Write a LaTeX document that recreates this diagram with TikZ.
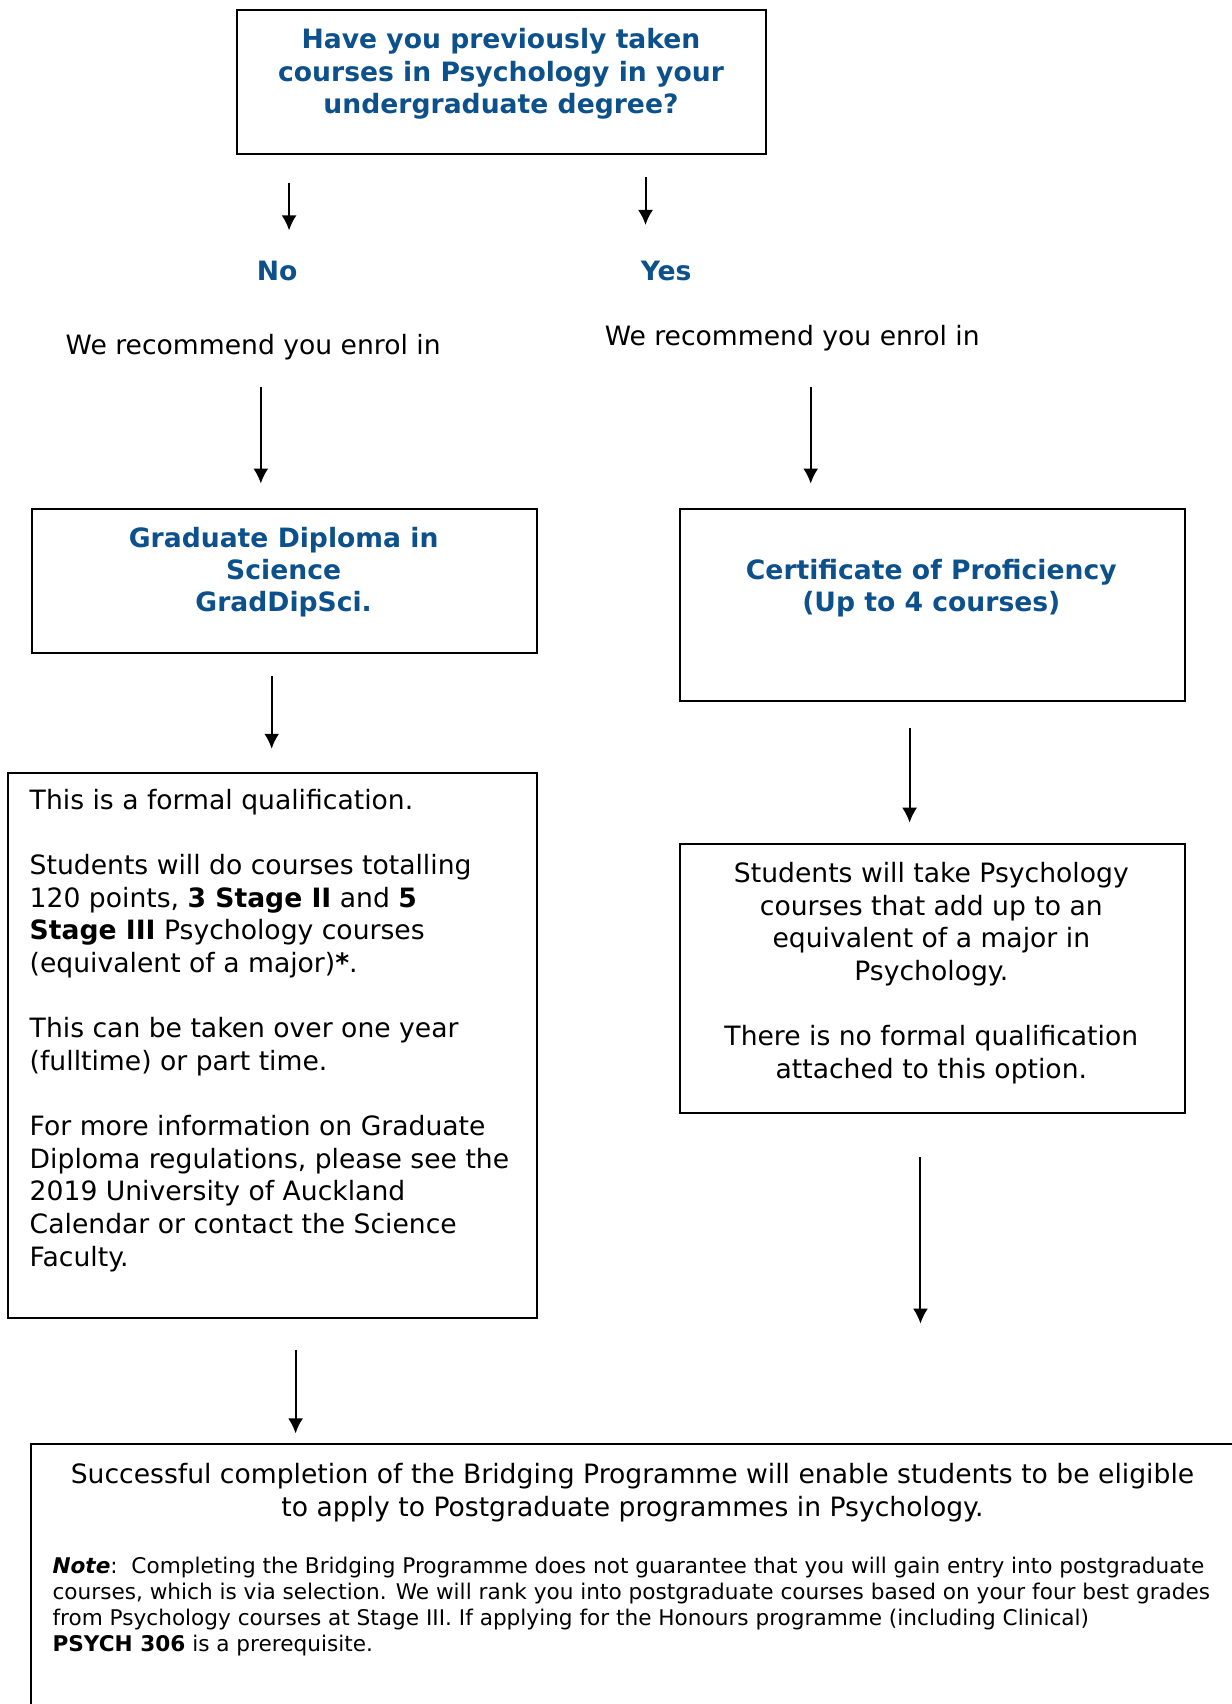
\documentclass[tikz,border=0pt]{standalone}
\usepackage{fontspec}
\setmainfont{DejaVu Sans}
\usetikzlibrary{arrows.meta}
\definecolor{uoablue}{RGB}{12,80,140}
\tikzset{
	boxframe/.style={draw, line width=1pt, inner sep=0pt},
	arr/.style={line width=1pt, -{Latex[length=7.5pt, width=7.5pt]}},
	head/.style={text=uoablue, font=\fontsize{13.3}{16}\selectfont\bfseries, align=center, inner sep=0pt},
	body/.style={font=\fontsize{13.3}{16.3}\selectfont, inner sep=0pt},
	small/.style={font=\fontsize{10.8}{13}\selectfont, align=left, inner sep=0pt}
}
\begin{document}
\begin{tikzpicture}[x=0.5432pt, y=-0.5432pt]
		\useasboundingbox (0,0) rectangle (1133,1568);
		% frames
		\node[boxframe, minimum width=264.5pt, minimum height=72.2pt] (qbox) at (461.5,75.5) {};
		\node[boxframe, minimum width=252.6pt, minimum height=72.2pt] (gdbox) at (261.5,534.5) {};
		\node[boxframe, minimum width=252pt, minimum height=96.1pt] (cpbox) at (858,556.5) {};
		\node[boxframe, minimum width=264.5pt, minimum height=272.7pt] (infobox) at (250.5,962) {};
		\node[boxframe, minimum width=252pt, minimum height=134.2pt] (optbox) at (858,900.5) {};
		\node[boxframe, minimum width=614.4pt, minimum height=147.2pt] (endbox) at (594.5,1464.5) {};
		
		% arrows
		\foreach \n/\x/\ya/\yb in {1/266/168/212, 2/594/163/207, 3/240/356/445, 4/746/356/445,
			5/250/622/689, 6/837/670/757, 7/847/1065/1218, 8/272/1242/1319}
		{
			\coordinate (s\n) at (\x,\ya);
			\coordinate (e\n) at (\x,\yb);
			\draw[arr] (s\n) -- (e\n);
		}
		
		% texts (anchored at the baseline of their last line)
		\node[head, anchor=base] (qtext) at (461,104) {Have you previously taken\\courses in Psychology in your\\undergraduate degree?};
		\node[head, anchor=base] (nolbl) at (255,258) {No};
		\node[head, anchor=base] (yeslbl) at (613,258) {Yes};
		\node[body, anchor=base] (recl) at (233,326) {We recommend you enrol in};
		\node[body, anchor=base] (recr) at (729,318) {We recommend you enrol in};
		\node[head, anchor=base] (gdtext) at (261,563) {Graduate Diploma in\\Science\\GradDipSci.};
		\node[head, anchor=base] (cptext) at (857,563) {Certificate of Proficiency\\(Up to 4 courses)};
		\node[body, align=left, anchor=base west] (infotext) at (27,1165) {This is a formal qualification.\\[16.3pt]
			Students will do courses totalling\\120 points, \textbf{3 Stage II} and \textbf{5}\\\textbf{Stage III} Psychology courses\\(equivalent of a major)\textbf{*}.\\[16.3pt]
			This can be taken over one year\\(fulltime) or part time.\\[16.3pt]
			For more information on Graduate\\Diploma regulations, please see the\\2019 University of Auckland\\Calendar or contact the Science\\Faculty.};
		\node[body, align=center, anchor=base] (opttext) at (857,992) {Students will take Psychology\\courses that add up to an\\equivalent of a major in\\Psychology.\\[16.3pt]
			There is no formal qualification\\attached to this option.};
		\node[body, align=center, anchor=base] (endtext) at (582,1395) {Successful completion of the Bridging Programme will enable students to be eligible\\to apply to Postgraduate programmes in Psychology.};
		\node[small, anchor=base west] (notetext) at (48,1520) {\textbf{\textit{Note}}:\ \ Completing the Bridging Programme does not guarantee that you will gain entry into postgraduate\\courses, which is via selection. We will rank you into postgraduate courses based on your four best grades\\from Psychology courses at Stage III. If applying for the Honours programme (including Clinical)\\\textbf{PSYCH 306} is a prerequisite.};
	\end{tikzpicture}
\end{document}
